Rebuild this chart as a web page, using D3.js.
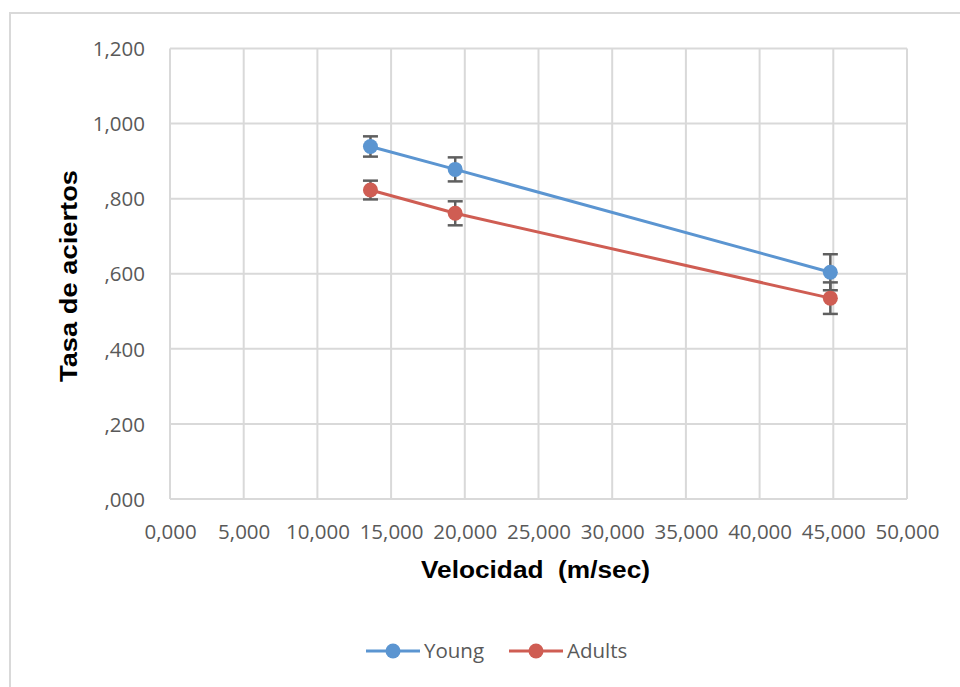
<!DOCTYPE html>
<html>
<head>
<meta charset="utf-8">
<script src="https://cdn.jsdelivr.net/npm/d3@7"></script>
<style>
html,body{margin:0;padding:0;background:#fff;}
svg{display:block;}
</style>
</head>
<body>
<svg id="chart" width="960" height="687"></svg>
<script>
// ---- data ----
const seriesNames = ["Young", "Adults"];
const velocity = [13600, 19350, 44800];
const youngValues = [0.939, 0.878, 0.604];
const youngErrors = [0.027, 0.032, 0.048];
const adultValues = [0.823, 0.761, 0.535];
const adultErrors = [0.025, 0.032, 0.042];
const xTicks = [0, 5000, 10000, 15000, 20000, 25000, 30000, 35000, 40000, 45000, 50000];
const yTicks = [0, 0.2, 0.4, 0.6, 0.8, 1.0, 1.2];
const xTitle = "Velocidad  (m/sec)";
const yTitle = "Tasa de aciertos";

const colors = ["#5b95d1", "#cf5d53"];
const series = [
  {name: seriesNames[0], values: youngValues, errors: youngErrors, color: colors[0]},
  {name: seriesNames[1], values: adultValues, errors: adultErrors, color: colors[1]}
];

const svg = d3.select("#chart");
const pLeft = 170, pRight = 907, pTop = 48.5, pBottom = 499;
const x = d3.scaleLinear().domain([0, 50000]).range([pLeft, pRight]);
const y = d3.scaleLinear().domain([0, 1.2]).range([pBottom, pTop]);

// outer frame
svg.append("rect").attr("x", 10).attr("y", 13).attr("width", 1000).attr("height", 1000)
  .attr("fill", "none").attr("stroke", "#d9d9d9").attr("stroke-width", 2);

const fmtXLabel = v => v === 0 ? "0,000" : d3.format(",")(v / 1000) + ",000";
const fmtY = v => {
  const s = d3.format(".3f")(v).replace(".", ",");
  return s.startsWith("0") ? s.slice(1) : s;
};

// gridlines
const grid = svg.append("g").attr("stroke", "#d9d9d9").attr("stroke-width", 2);
grid.selectAll("line.v").data(xTicks).join("line").attr("class", "v")
  .attr("x1", d => x(d)).attr("x2", d => x(d)).attr("y1", y(1.2)).attr("y2", y(0));
grid.selectAll("line.h").data(yTicks).join("line").attr("class", "h")
  .attr("x1", x(0)).attr("x2", x(50000)).attr("y1", d => y(d)).attr("y2", d => y(d));

// axes
const xAxis = d3.axisBottom(x).tickValues(xTicks).tickSize(0).tickPadding(0).tickFormat(fmtXLabel);
const gx = svg.append("g").attr("transform", `translate(0,${pBottom})`).call(xAxis);
gx.select(".domain").remove();
gx.selectAll("text").attr("font-family", "'Open Sans', sans-serif").attr("font-size", 20.5)
  .attr("fill", "#595959").attr("dy", null).attr("y", 40);

const yAxis = d3.axisLeft(y).tickValues(yTicks).tickSize(0).tickPadding(0).tickFormat(fmtY);
const gy = svg.append("g").attr("transform", `translate(145,0)`).call(yAxis);
gy.select(".domain").remove();
gy.selectAll("text").attr("font-family", "'Open Sans', sans-serif").attr("font-size", 20.5)
  .attr("fill", "#595959").attr("dy", "0.35em").attr("x", 0);

// axis titles
svg.append("text").attr("x", 421).attr("y", 578).attr("text-anchor", "start")
  .style("white-space", "pre")
  .attr("font-family", "'Liberation Sans', Arial, sans-serif").attr("font-weight", "bold")
  .attr("font-size", 23).attr("fill", "#000")
  .attr("textLength", 229).attr("lengthAdjust", "spacingAndGlyphs").text(xTitle);
svg.append("text").attr("transform", `translate(76.5,276) rotate(-90)`).attr("text-anchor", "middle")
  .attr("font-family", "'Liberation Sans', Arial, sans-serif").attr("font-weight", "bold")
  .attr("font-size", 23.5).attr("fill", "#000")
  .attr("textLength", 212).attr("lengthAdjust", "spacingAndGlyphs").text(yTitle);

// lines
const line = d3.line().x((d, i) => x(velocity[i])).y(d => y(d));
series.forEach(s => {
  svg.append("path").datum(s.values).attr("d", line).attr("fill", "none")
    .attr("stroke", s.color).attr("stroke-width", 3);
});

// error bars
series.forEach(s => {
  const g = svg.append("g").attr("stroke", "#5f5f5f").attr("stroke-width", 2.5);
  s.values.forEach((v, i) => {
    const cx = x(velocity[i]);
    const y1 = y(v + s.errors[i]), y2 = y(v - s.errors[i]);
    g.append("line").attr("x1", cx).attr("x2", cx).attr("y1", y1).attr("y2", y2);
    g.append("line").attr("x1", cx - 7.5).attr("x2", cx + 7.5).attr("y1", y1).attr("y2", y1);
    g.append("line").attr("x1", cx - 7.5).attr("x2", cx + 7.5).attr("y1", y2).attr("y2", y2);
  });
});

// markers
series.forEach(s => {
  svg.append("g").selectAll("circle").data(s.values).join("circle")
    .attr("cx", (d, i) => x(velocity[i])).attr("cy", d => y(d)).attr("r", 7.5)
    .attr("fill", s.color);
});

// legend
const legendX = [366, 509];
series.forEach((s, i) => {
  const g = svg.append("g").attr("transform", `translate(${legendX[i]},651)`);
  g.append("line").attr("x1", 0).attr("x2", 54).attr("y1", 0).attr("y2", 0)
    .attr("stroke", s.color).attr("stroke-width", 3);
  g.append("circle").attr("cx", 27).attr("cy", 0).attr("r", 7.5).attr("fill", s.color);
  g.append("text").attr("x", 58).attr("y", 0).attr("dy", "0.35em")
    .attr("font-family", "'Open Sans', sans-serif").attr("font-size", 20.5)
    .attr("fill", "#595959").text(s.name);
});
</script>
</body>
</html>
